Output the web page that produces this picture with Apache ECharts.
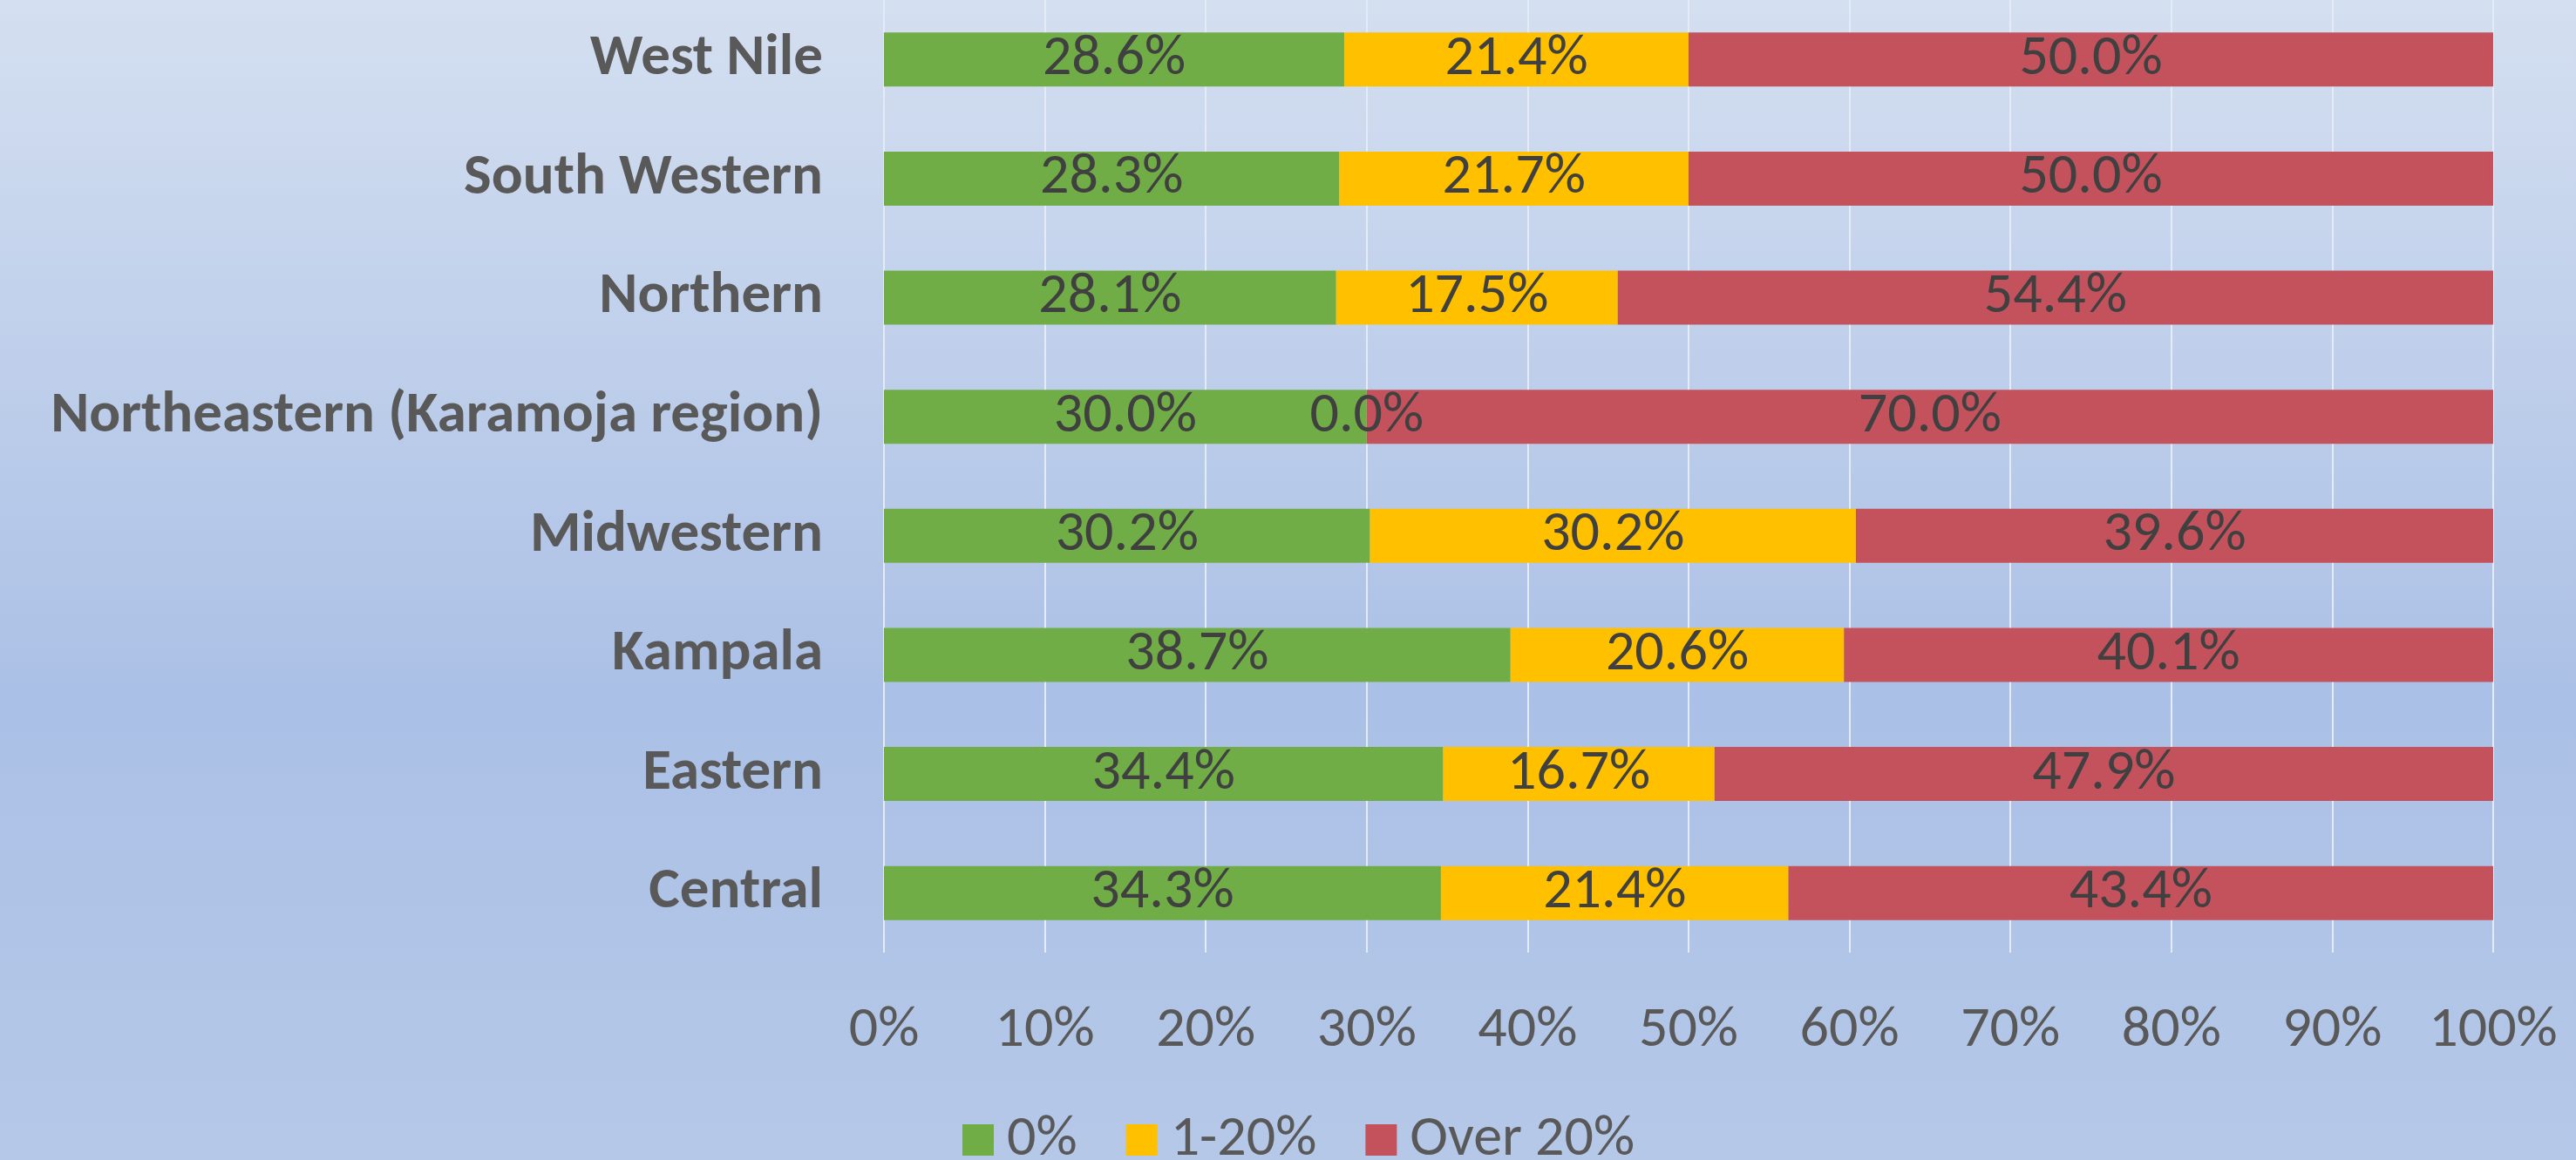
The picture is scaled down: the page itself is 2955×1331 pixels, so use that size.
<!DOCTYPE html>
<html>
<head>
<meta charset="utf-8">
<script src="https://cdn.jsdelivr.net/npm/echarts@6/dist/echarts.min.js"></script>
<style>
  html, body { margin: 0; padding: 0; }
  #main { width: 2955px; height: 1331px; }
</style>
</head>
<body>
<div id="main"></div>
<script>
var regions = ['West Nile', 'South Western', 'Northern', 'Northeastern (Karamoja region)',
    'Midwestern', 'Kampala', 'Eastern', 'Central'];
var zeroPct = [28.6, 28.3, 28.1, 30.0, 30.2, 38.7, 34.4, 34.3];
var lowPct = [21.4, 21.7, 17.5, 0.0, 30.2, 20.6, 16.7, 21.4];
var highPct = [50.0, 50.0, 54.4, 70.0, 39.6, 40.1, 47.9, 43.4];
var seriesNames = ['0%', '1-20%', 'Over 20%'];
var colors = ['#70ad47', '#ffc000', '#c4525c'];

var font = 'Carlito, Lato, sans-serif';
var chartDom = document.getElementById('main');
var myChart = echarts.init(chartDom);

// 100% stacked: each row is scaled to its own total, labels keep the printed value
var totals = regions.map(function (r, i) { return zeroPct[i] + lowPct[i] + highPct[i]; });

function makeSeries(name, data, color) {
    return {
        name: name,
        type: 'bar',
        stack: 'total',
        barWidth: 62,
        data: data.map(function (v, i) {
            return { value: v / totals[i] * 100, shown: v };
        }),
        itemStyle: { color: color },
        label: {
            show: true,
            position: 'inside',
            color: '#404040',
            fontFamily: font,
            fontSize: 66,
            formatter: function (p) { return p.data.shown.toFixed(1) + '%'; }
        }
    };
}

var option = {
    backgroundColor: {
        type: 'linear', x: 0, y: 0, x2: 0, y2: 1,
        colorStops: [
            { offset: 0, color: '#d4dff0' },
            { offset: 0.6, color: '#abc0e6' },
            { offset: 1, color: '#b5c8e8' }
        ]
    },
    grid: { left: 1014, right: 95, top: -19, bottom: 238 },
    legend: {
        left: 1099,
        top: 1270,
        itemWidth: 36,
        itemHeight: 36,
        itemGap: 56,
        icon: 'rect',
        textStyle: {
            color: '#595959', fontFamily: font, fontSize: 66, lineHeight: 66,
            padding: [0, 0, 0, 10]
        },
        data: seriesNames
    },
    xAxis: {
        type: 'value',
        min: 0,
        max: 100,
        interval: 10,
        axisLine: { show: false },
        axisTick: { show: false },
        splitLine: { show: true, lineStyle: { color: '#e4ebf6', width: 2 } },
        axisLabel: {
            color: '#595959',
            fontFamily: font,
            fontSize: 66,
            lineHeight: 66,
            margin: 57,
            formatter: '{value}%'
        }
    },
    yAxis: {
        type: 'category',
        inverse: true,
        data: regions,
        axisLine: { show: false },
        axisTick: { show: false },
        axisLabel: {
            color: '#595959',
            fontFamily: font,
            fontWeight: 'bold',
            fontSize: 67,
            margin: 70
        }
    },
    series: [
        makeSeries(seriesNames[0], zeroPct, colors[0]),
        makeSeries(seriesNames[1], lowPct, colors[1]),
        makeSeries(seriesNames[2], highPct, colors[2])
    ]
};

option && myChart.setOption(option);
</script>
</body>
</html>
